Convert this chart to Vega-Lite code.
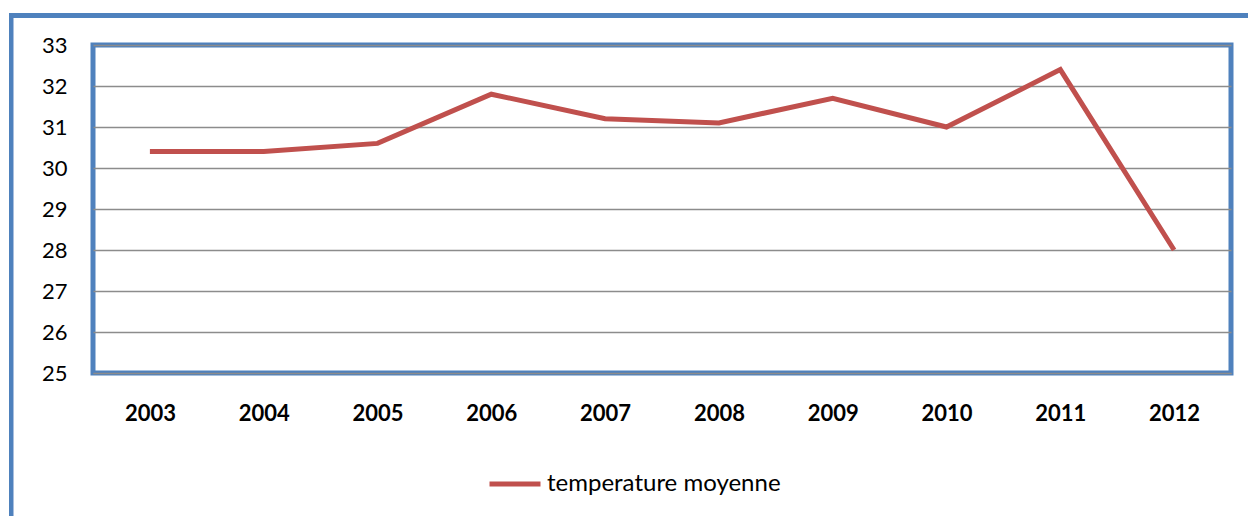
{
  "$schema": "https://vega.github.io/schema/vega-lite/v6.json",
  "width": 1138,
  "height": 328,
  "autosize": {"type": "none"},
  "padding": {"left": 93, "top": 45, "right": 17, "bottom": 143},
  "background": "white",
  "config": {
    "view": {"stroke": "#4F81BD", "strokeWidth": 5},
    "font": "Lato"
  },
  "data": {
    "values": [
      {"annee": 2003, "temp": 30.4, "serie": "temperature moyenne"},
      {"annee": 2004, "temp": 30.4, "serie": "temperature moyenne"},
      {"annee": 2005, "temp": 30.6, "serie": "temperature moyenne"},
      {"annee": 2006, "temp": 31.8, "serie": "temperature moyenne"},
      {"annee": 2007, "temp": 31.2, "serie": "temperature moyenne"},
      {"annee": 2008, "temp": 31.1, "serie": "temperature moyenne"},
      {"annee": 2009, "temp": 31.7, "serie": "temperature moyenne"},
      {"annee": 2010, "temp": 31.0, "serie": "temperature moyenne"},
      {"annee": 2011, "temp": 32.4, "serie": "temperature moyenne"},
      {"annee": 2012, "temp": 28.0, "serie": "temperature moyenne"}
    ]
  },
  "layer": [
    {
      "mark": {"type": "rect", "fill": null, "stroke": "#4F81BD", "strokeWidth": 4, "clip": false},
      "encoding": {
        "x": {"datum": 2001.78, "type": "quantitative"},
        "x2": {"datum": 2014},
        "y": {"datum": 33.72, "type": "quantitative"},
        "y2": {"datum": 20}
      }
    },
    {
      "mark": {"type": "line", "strokeWidth": 5},
      "encoding": {
        "x": {
          "field": "annee",
          "type": "quantitative",
          "scale": {"domain": [2002.5, 2012.5], "nice": false, "zero": false},
          "axis": {
            "title": null,
            "values": [2003, 2004, 2005, 2006, 2007, 2008, 2009, 2010, 2011, 2012],
            "format": "d",
            "grid": false,
            "ticks": false,
            "domain": true,
            "domainColor": "#8c8c8c",
            "domainWidth": 1,
            "labelFontSize": 22,
            "labelFontWeight": "bold",
            "labelColor": "#000000",
            "labelPadding": 30
          }
        },
        "y": {
          "field": "temp",
          "type": "quantitative",
          "scale": {"domain": [25, 33], "nice": false, "zero": false},
          "axis": {
            "title": null,
            "values": [25, 26, 27, 28, 29, 30, 31, 32, 33],
            "grid": true,
            "gridColor": "#8c8c8c",
            "gridWidth": 1.5,
            "ticks": false,
            "domain": false,
            "labelFontSize": 22,
            "labelColor": "#000000",
            "labelPadding": 26
          }
        },
        "color": {
          "field": "serie",
          "type": "nominal",
          "scale": {"range": ["#C0504D"]},
          "legend": {
            "title": null,
            "orient": "none",
            "legendX": 394,
            "legendY": 411,
            "symbolType": "stroke",
            "symbolSize": 2600,
            "symbolStrokeWidth": 5,
            "labelFontSize": 24,
            "labelLimit": 500,
            "labelColor": "#000000",
            "labelOffset": 4
          }
        }
      }
    }
  ]
}
